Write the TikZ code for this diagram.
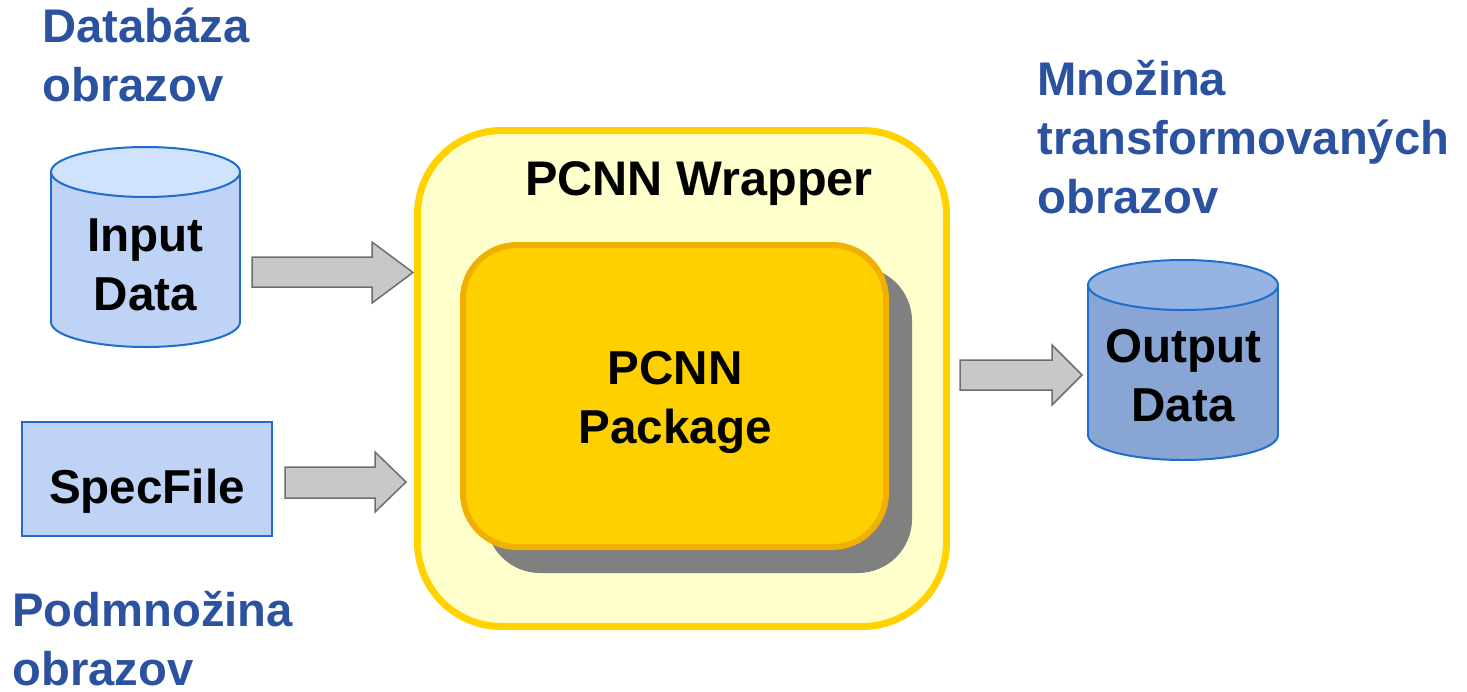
\documentclass[tikz,border=0pt]{standalone}
\usepackage{fontspec}
\setmainfont{Liberation Sans}
\usetikzlibrary{calc}
\definecolor{lblue}{RGB}{43,82,160}
\definecolor{cylborder}{RGB}{30,110,205}
\definecolor{intop}{RGB}{208,226,252}
\definecolor{inbody}{RGB}{190,211,245}
\definecolor{outtop}{RGB}{150,180,226}
\definecolor{outbody}{RGB}{136,165,211}
\definecolor{arrfill}{RGB}{200,200,200}
\definecolor{arrdraw}{RGB}{110,110,110}
\definecolor{wrapfill}{RGB}{255,255,204}
\definecolor{wrapdraw}{RGB}{255,210,0}
\definecolor{pkgfill}{RGB}{255,208,0}
\definecolor{pkgdraw}{RGB}{240,176,0}
\definecolor{shadowc}{RGB}{128,128,128}
\tikzset{
  txt/.style={font=\fontsize{23.8}{29.5}\selectfont\bfseries, align=center, inner sep=0pt},
  lbl/.style={font=\fontsize{23.6}{29.5}\selectfont\bfseries, align=left, inner sep=0pt, text=lblue, anchor=base west},
  blockarrow/.style={fill=arrfill, draw=arrdraw, line width=0.75pt, line join=miter},
  cylline/.style={draw=cylborder, line width=1pt}
}
\begin{document}
\begin{tikzpicture}[x=0.5pt,y=-0.5pt]
\useasboundingbox (0,0) rectangle (1467,691);
% Input cylinder
\fill[inbody, cylline] (145.5,322) ellipse [x radius=94.5, y radius=25];
\fill[inbody] (51,172) rectangle (240,322);
\draw[cylline] (51,172) -- (51,322) (240,172) -- (240,322);
\filldraw[fill=intop, cylline] (145.5,172) ellipse [x radius=94.5, y radius=25];
\node[txt, anchor=base] (in) at (145.5,310) {Input\\Data};
% Output cylinder
\fill[outbody, cylline] (1183,435) ellipse [x radius=95, y radius=25];
\fill[outbody] (1088,285) rectangle (1278,435);
\draw[cylline] (1088,285) -- (1088,435) (1278,285) -- (1278,435);
\filldraw[fill=outtop, cylline] (1183,285) ellipse [x radius=95, y radius=25];
\node[txt, anchor=base] (out) at (1183,421) {Output\\Data};
% SpecFile
\draw[draw=cylborder, line width=1pt, fill=inbody] (22,422) rectangle (272,536);
\node[txt, anchor=base] (spec) at (147,503) {SpecFile};
% Wrapper
\draw[fill=wrapfill, draw=wrapdraw, line width=3.5pt, rounded corners=42pt] (417.5,130.5) rectangle (946.5,626.5);
\node[txt, anchor=base, font=\fontsize{24.3}{29.5}\selectfont\bfseries] (wrap) at (699,195) {PCNN Wrapper};
% Package shadow + box
\fill[shadowc, rounded corners=27pt] (486,267) rectangle (912,573);
\draw[fill=pkgfill, draw=pkgdraw, line width=3pt, rounded corners=27pt] (463,245) rectangle (886,547);
\node[txt, anchor=base] (pkg) at (675,443) {PCNN\\Package};
% Block arrows
\draw[blockarrow] (252,257) -- (372,257) -- (372,242) -- (413,272.5) -- (372,303) -- (372,287) -- (252,287) -- cycle;
\draw[blockarrow] (285,467) -- (375,467) -- (375,452) -- (406,482) -- (375,512) -- (375,498) -- (285,498) -- cycle;
\draw[blockarrow] (960,360) -- (1052,360) -- (1052,345) -- (1082,375) -- (1052,405) -- (1052,390) -- (960,390) -- cycle;
% Labels
\node[lbl] (l1) at (42,101) {Databáza\\obrazov};
\node[lbl] (l2) at (1037,213) {Množina\\transformovaných\\obrazov};
\node[lbl] (l3) at (12,685) {Podmnožina\\obrazov};
\end{tikzpicture}
\end{document}
